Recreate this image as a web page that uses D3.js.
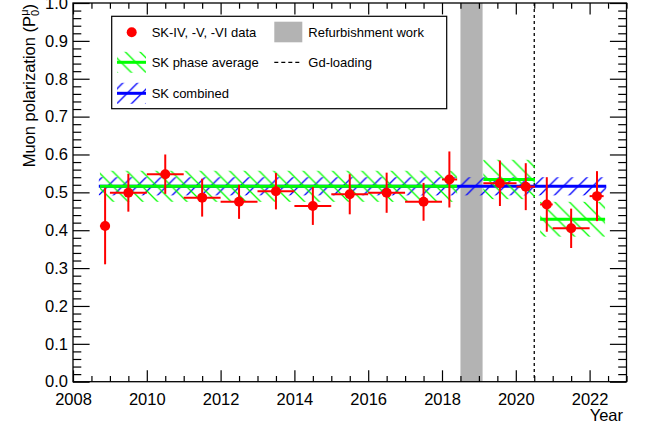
<!DOCTYPE html>
<html><head><meta charset="utf-8">
<script src="https://cdn.jsdelivr.net/npm/d3@7"></script>
<style>body{margin:0;background:#fff} text{font-family:"Liberation Sans",Arial,Helvetica,sans-serif}</style>
</head><body><svg id="c" width="646" height="430"></svg>
<script>
// ---- data ----
const pointYear = [2008.87, 2009.5, 2010.5, 2011.5, 2012.5, 2013.5, 2014.5, 2015.5, 2016.5, 2017.5, 2018.2, 2019.57, 2020.27, 2020.84, 2021.5, 2022.2];
const pointYearLo = [2008.73, 2009.0, 2010.0, 2011.0, 2012.0, 2013.0, 2014.0, 2015.0, 2016.0, 2017.0, 2018.0, 2019.12, 2020.02, 2020.66, 2021.0, 2022.0];
const pointYearHi = [2009.0, 2010.0, 2011.0, 2012.0, 2013.0, 2014.0, 2015.0, 2016.0, 2017.0, 2018.0, 2018.41, 2020.02, 2020.52, 2021.0, 2022.0, 2022.38];
const pointValue = [0.411, 0.499, 0.548, 0.486, 0.475, 0.503, 0.464, 0.495, 0.499, 0.475, 0.534, 0.524, 0.515, 0.468, 0.405, 0.490];
const pointErr = [0.101, 0.050, 0.052, 0.050, 0.045, 0.048, 0.050, 0.053, 0.053, 0.050, 0.074, 0.060, 0.062, 0.072, 0.052, 0.066];

const phaseStart = [2008.73, 2019.12, 2020.66];
const phaseEnd = [2018.41, 2020.52, 2022.42];
const phaseMean = [0.516, 0.534, 0.429];
const phaseErr = [0.041, 0.052, 0.046];

const combinedStart = [2008.7];
const combinedEnd = [2022.45];
const combinedMean = [0.516];
const combinedErr = [0.024];

const refurbStart = [2018.5];
const refurbEnd = [2019.1];
const gdLoading = [2020.5];

const xTickValues = [2008, 2010, 2012, 2014, 2016, 2018, 2020, 2022];
const xTickLabels = ["2008", "2010", "2012", "2014", "2016", "2018", "2020", "2022"];
const yTickValues = [0, 0.1, 0.2, 0.3, 0.4, 0.5, 0.6, 0.7, 0.8, 0.9, 1.0];
const yTickLabels = ["0.0", "0.1", "0.2", "0.3", "0.4", "0.5", "0.6", "0.7", "0.8", "0.9", "1.0"];
const legendLabels = ["SK-IV, -V, -VI data", "SK phase average", "SK combined", "Refurbishment work", "Gd-loading"];

// ---- drawing ----
const svg = d3.select("#c");
svg.append("rect").attr("width", 646).attr("height", 430).attr("fill", "#fff");
const x = d3.scaleLinear().domain([2008, 2023]).range([73, 626.5]);
const y = d3.scaleLinear().domain([0, 1]).range([381.7, 3]);
const [x0, x1] = x.range(), [y0, y1] = y.range();

const defs = svg.append("defs");
const S = 14.7;
function hatch(id, color, dir) {
  const p = defs.append("pattern").attr("id", id).attr("patternUnits", "userSpaceOnUse")
    .attr("width", S).attr("height", S);
  const d = dir === "back"
    ? `M0,0L${S},${S}M${-S/2},${S/2}L${S/2},${1.5*S}M${S/2},${-S/2}L${1.5*S},${S/2}`
    : `M0,${S}L${S},0M${-S/2},${S/2}L${S/2},${-S/2}M${S/2},${1.5*S}L${1.5*S},${S/2}`;
  p.append("path").attr("d", d).attr("stroke", color).attr("stroke-width", 1.3).attr("fill", "none");
}
hatch("hGreen", "#00ff00", "back");
hatch("hBlue", "#0000ff", "fwd");

// refurbishment band
svg.selectAll(".refurb").data(refurbStart).join("rect")
  .attr("x", (d, i) => x(d)).attr("width", (d, i) => x(refurbEnd[i]) - x(d))
  .attr("y", y1).attr("height", y0 - y1).attr("fill", "#b3b3b3");

// Gd loading line
svg.selectAll(".gd").data(gdLoading).join("line")
  .attr("x1", d => x(d)).attr("x2", d => x(d)).attr("y1", y1).attr("y2", y0)
  .attr("stroke", "#000").attr("stroke-width", 1.3).attr("stroke-dasharray", "3,3");

// combined band
combinedStart.forEach((s, i) => {
  svg.append("rect").attr("x", x(s)).attr("width", x(combinedEnd[i]) - x(s))
    .attr("y", y(combinedMean[i] + combinedErr[i]))
    .attr("height", y(combinedMean[i] - combinedErr[i]) - y(combinedMean[i] + combinedErr[i]))
    .attr("fill", "url(#hBlue)");
  svg.append("line").attr("x1", x(s)).attr("x2", x(combinedEnd[i]))
    .attr("y1", y(combinedMean[i])).attr("y2", y(combinedMean[i]))
    .attr("stroke", "#0000ff").attr("stroke-width", 3);
});

// phase averages
phaseStart.forEach((s, i) => {
  svg.append("rect").attr("x", x(s)).attr("width", x(phaseEnd[i]) - x(s))
    .attr("y", y(phaseMean[i] + phaseErr[i]))
    .attr("height", y(phaseMean[i] - phaseErr[i]) - y(phaseMean[i] + phaseErr[i]))
    .attr("fill", "url(#hGreen)");
});
phaseStart.forEach((s, i) => {
  svg.append("line").attr("x1", x(s)).attr("x2", x(phaseEnd[i]))
    .attr("y1", y(phaseMean[i])).attr("y2", y(phaseMean[i]))
    .attr("stroke", "#00ff00").attr("stroke-width", 3);
});

// data points
const pts = pointYear.map((d, i) => ({x: d, lo: pointYearLo[i], hi: pointYearHi[i], v: pointValue[i], e: pointErr[i]}));
const g = svg.append("g");
g.selectAll(".hbar").data(pts).join("line")
  .attr("x1", d => x(d.lo)).attr("x2", d => x(d.hi)).attr("y1", d => y(d.v)).attr("y2", d => y(d.v))
  .attr("stroke", "#ff0000").attr("stroke-width", 2);
g.selectAll(".vbar").data(pts).join("line")
  .attr("x1", d => x(d.x)).attr("x2", d => x(d.x)).attr("y1", d => y(d.v - d.e)).attr("y2", d => y(d.v + d.e))
  .attr("stroke", "#ff0000").attr("stroke-width", 2);
g.selectAll("circle").data(pts).join("circle")
  .attr("cx", d => x(d.x)).attr("cy", d => y(d.v)).attr("r", 5).attr("fill", "#ff0000");

// axes
const FS = 16.5;
const xMinor = d3.range(2008, 2023.001, 0.5).filter(v => !xTickValues.includes(v));
const yMinor = d3.range(0, 1.0001, 0.02).map(v => +v.toFixed(2)).filter(v => !yTickValues.some(t => Math.abs(t - v) < 1e-6));

function styleAxis(sel) {
  sel.selectAll("path").remove();
  sel.selectAll("line").attr("stroke", "#000").attr("stroke-width", 1.2);
  sel.selectAll("text").attr("fill", "#000").style("font-size", FS + "px")
    .style("font-family", '"Liberation Sans", Arial, sans-serif');
}
// bottom
svg.append("g").attr("transform", `translate(0,${y0})`)
  .call(d3.axisBottom(x).tickValues(xTickValues).tickSize(-11.4).tickPadding(11.6)
    .tickFormat((d, i) => xTickLabels[i])).call(styleAxis);
svg.append("g").attr("transform", `translate(0,${y0})`)
  .call(d3.axisBottom(x).tickValues(xMinor).tickSize(-5.7).tickFormat("")).call(styleAxis);
// top
svg.append("g").attr("transform", `translate(0,${y1})`)
  .call(d3.axisTop(x).tickValues(xTickValues).tickSize(-11.4).tickFormat("")).call(styleAxis);
svg.append("g").attr("transform", `translate(0,${y1})`)
  .call(d3.axisTop(x).tickValues(xMinor).tickSize(-5.7).tickFormat("")).call(styleAxis);
// left
svg.append("g").attr("transform", `translate(${x0},0)`)
  .call(d3.axisLeft(y).tickValues(yTickValues).tickSize(-16.6).tickPadding(5)
    .tickFormat((d, i) => yTickLabels[i])).call(styleAxis);
svg.append("g").attr("transform", `translate(${x0},0)`)
  .call(d3.axisLeft(y).tickValues(yMinor).tickSize(-8.3).tickFormat("")).call(styleAxis);
// right
svg.append("g").attr("transform", `translate(${x1},0)`)
  .call(d3.axisRight(y).tickValues(yTickValues).tickSize(-16.6).tickFormat("")).call(styleAxis);
svg.append("g").attr("transform", `translate(${x1},0)`)
  .call(d3.axisRight(y).tickValues(yMinor).tickSize(-8.3).tickFormat("")).call(styleAxis);
// frame
svg.append("rect").attr("x", x0).attr("y", y1).attr("width", x1 - x0).attr("height", y0 - y1)
  .attr("fill", "none").attr("stroke", "#000").attr("stroke-width", 1.3);

// axis titles
svg.append("text").attr("x", 623).attr("y", 421).attr("text-anchor", "end")
  .style("font-size", FS + "px").text("Year");
const yt = svg.append("text").attr("transform", "translate(35,4) rotate(-90)")
  .attr("text-anchor", "end").style("font-size", FS + "px");
yt.append("tspan").text("Muon polarization (P");
yt.append("tspan").attr("dy", 4).style("font-size", "11px").text("0");
yt.append("tspan").attr("dx", -6).attr("dy", -11).style("font-size", "11px").text("\u03bc");
yt.append("tspan").attr("dy", 7).text(")");

// legend
const L = svg.append("g");
L.append("rect").attr("x", 111.7).attr("y", 16.3).attr("width", 335).attr("height", 92.4)
  .attr("fill", "#fff").attr("stroke", "#000").attr("stroke-width", 1.2);
const LF = 13;
const rowY = [32.3, 62.3, 93.3];
L.append("circle").attr("cx", 131.7).attr("cy", rowY[0]).attr("r", 5).attr("fill", "#ff0000");
// green symbol
L.append("rect").attr("x", 117).attr("y", rowY[1] - 10.5).attr("width", 29).attr("height", 21).attr("fill", "url(#hGreen)");
L.append("line").attr("x1", 117).attr("x2", 146).attr("y1", rowY[1]).attr("y2", rowY[1]).attr("stroke", "#00ff00").attr("stroke-width", 3);
// blue symbol
L.append("rect").attr("x", 117).attr("y", rowY[2] - 10.5).attr("width", 29).attr("height", 21).attr("fill", "url(#hBlue)");
L.append("line").attr("x1", 117).attr("x2", 146).attr("y1", rowY[2]).attr("y2", rowY[2]).attr("stroke", "#0000ff").attr("stroke-width", 3);
// gray box
L.append("rect").attr("x", 274.3).attr("y", 21.7).attr("width", 28).attr("height", 20.6).attr("fill", "#b3b3b3");
L.append("line").attr("x1", 274.3).attr("x2", 302).attr("y1", rowY[1]).attr("y2", rowY[1])
  .attr("stroke", "#000").attr("stroke-width", 1.3).attr("stroke-dasharray", "4,3");
const lpos = [[151.7, rowY[0]], [151.7, rowY[1]], [151.7, rowY[2]], [308.3, rowY[0]], [308.3, rowY[1]]];
L.selectAll(".lt").data(legendLabels).join("text")
  .attr("x", (d, i) => lpos[i][0]).attr("y", (d, i) => lpos[i][1]).attr("dy", "0.36em")
  .style("font-size", LF + "px").attr("fill", "#000").text(d => d);
</script></body></html>
